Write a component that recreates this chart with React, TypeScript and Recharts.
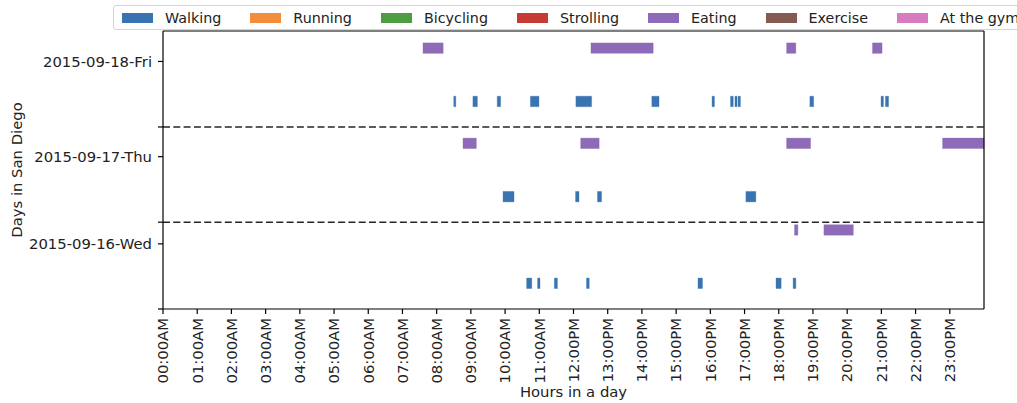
import { ComposedChart, XAxis, YAxis, ReferenceArea, ReferenceLine } from 'recharts';

document.body.style.margin = '0';

const hourLabels = [
  '00:00AM', '01:00AM', '02:00AM', '03:00AM', '04:00AM', '05:00AM',
  '06:00AM', '07:00AM', '08:00AM', '09:00AM', '10:00AM', '11:00AM',
  '12:00PM', '13:00PM', '14:00PM', '15:00PM', '16:00PM', '17:00PM',
  '18:00PM', '19:00PM', '20:00PM', '21:00PM', '22:00PM', '23:00PM'
];

const activities = ['Walking', 'Running', 'Bicycling', 'Strolling', 'Eating', 'Exercise', 'At the gym'];
const activityColors = ['#3a74b0', '#f28e3b', '#4f9d43', '#c63b33', '#8e6bb9', '#845b52', '#d67cbf'];

const days = ['2015-09-16-Wed', '2015-09-17-Thu', '2015-09-18-Fri'];
const dayTickY = [0.684, 1.6, 2.6];
const dayDividerY = [0.912, 1.912];
const walkingRowY = [0.27, 1.18, 2.18];
const eatingRowY = [0.83, 1.74, 2.74];

// [start hour, end hour]
const walkingWed = [
  [10.63, 10.78], [10.95, 11.02], [11.44, 11.53], [12.38, 12.46],
  [15.64, 15.77], [17.92, 18.07], [18.42, 18.5]
];
const eatingWed = [[18.46, 18.56], [19.32, 20.18]];

const walkingThu = [[9.94, 10.26], [12.06, 12.16], [12.7, 12.82], [17.04, 17.33]];
const eatingThu = [[8.77, 9.16], [12.21, 12.75], [18.23, 18.93], [22.79, 24]];

const walkingFri = [
  [8.5, 8.56], [9.06, 9.19], [9.77, 9.87], [10.74, 10.99], [12.07, 12.53],
  [14.29, 14.5], [16.05, 16.12], [16.59, 16.67], [16.72, 16.78], [16.81, 16.88],
  [18.91, 19.02], [20.99, 21.06], [21.12, 21.21]
];
const eatingFri = [[7.6, 8.19], [12.51, 14.33], [18.23, 18.5], [20.74, 21.02]];

const walkingByDay = [walkingWed, walkingThu, walkingFri];
const eatingByDay = [eatingWed, eatingThu, eatingFri];

const BAR_HALF = 0.055;
const FONT = '"DejaVu Sans", sans-serif';
const FS = 14.8;
const TEXT = '#222';

const XTick = ({ x, y, payload }: any) => (
  <text
    x={x}
    y={y}
    transform={`rotate(-90 ${x} ${y})`}
    textAnchor="end"
    dy="0.36em"
    fontSize={FS}
    fontFamily={FONT}
    fill={TEXT}
  >
    {hourLabels[payload.value]}
  </text>
);

const YTick = ({ x, y, payload }: any) => {
  const idx = dayTickY.indexOf(payload.value);
  if (idx < 0) return null;
  return (
    <text x={x} y={y} textAnchor="end" dy="0.36em" fontSize={FS} fontFamily={FONT} fill={TEXT}>
      {days[idx]}
    </text>
  );
};

const segments = (rows: number[][][], rowY: number[], color: string, key: string) =>
  rows.flatMap((row, d) =>
    row.map(([s, e], i) => (
      <ReferenceArea
        key={`${key}-${d}-${i}`}
        x1={s}
        x2={e}
        y1={rowY[d] - BAR_HALF}
        y2={rowY[d] + BAR_HALF}
        fill={color}
        fillOpacity={1}
        stroke={color}
        strokeOpacity={0.35}
        strokeWidth={1}
        ifOverflow="visible"
      />
    ))
  );

export default function App() {
  const hourTicks = hourLabels.map((_, i) => i);
  const yTicks = [0, ...dayTickY, ...dayDividerY].sort((a, b) => a - b);

  return (
    <div style={{ position: 'relative', width: 1017, height: 403, overflow: 'hidden', background: '#fff' }}>
      <ComposedChart width={1017} height={403} margin={{ top: 31, right: 33, bottom: 0, left: 0 }} data={[]}>
        <XAxis
          type="number"
          dataKey="x"
          domain={[0, 24]}
          ticks={hourTicks}
          allowDataOverflow
          height={94}
          tick={<XTick />}
          tickSize={5}
          tickMargin={4}
          interval={0}
          axisLine={{ stroke: '#000', strokeWidth: 1.2 }}
          tickLine={{ stroke: '#000', strokeWidth: 1.2 }}
          label={{ value: 'Hours in a day', position: 'insideBottom', offset: 6, fill: TEXT, fontSize: FS, fontFamily: FONT }}
        />
        <YAxis
          type="number"
          dataKey="y"
          domain={[0, 2.92]}
          ticks={yTicks}
          allowDataOverflow
          width={163}
          tick={<YTick />}
          tickSize={5}
          tickMargin={6}
          interval={0}
          axisLine={{ stroke: '#000', strokeWidth: 1.2 }}
          tickLine={{ stroke: '#000', strokeWidth: 1.2 }}
          label={{
            value: 'Days in San Diego',
            angle: -90,
            position: 'insideLeft',
            offset: 17,
            fill: TEXT,
            fontSize: FS,
            fontFamily: FONT,
            style: { textAnchor: 'middle' }
          }}
        />
        {dayDividerY.map((y) => (
          <ReferenceLine key={`div-${y}`} y={y} stroke="#262626" strokeWidth={1.5} strokeDasharray="7 3.3" />
        ))}
        <ReferenceLine x={24} stroke="#000" strokeWidth={1.2} />
        <ReferenceLine y={2.92} stroke="#000" strokeWidth={1.2} />
        {segments(walkingByDay, walkingRowY, activityColors[0], 'walk')}
        {segments(eatingByDay, eatingRowY, activityColors[4], 'eat')}
      </ComposedChart>
      <div
        style={{
          position: 'absolute',
          left: 113,
          top: 5,
          width: 960,
          height: 25,
          boxSizing: 'border-box',
          border: '1px solid #d4d4d4',
          borderRadius: 3,
          background: 'rgba(255,255,255,0.85)',
          display: 'flex',
          alignItems: 'center',
          paddingLeft: 8,
          fontFamily: FONT,
          fontSize: 14.3,
          color: TEXT,
          whiteSpace: 'nowrap'
        }}
      >
        {activities.map((name, i) => (
          <div key={name} style={{ display: 'flex', alignItems: 'center', marginRight: 29 }}>
            <div
              style={{
                width: 31,
                height: 10,
                background: activityColors[i],
                border: `1px solid ${activityColors[i]}55`,
                boxSizing: 'border-box',
                marginRight: 12
              }}
            />
            <span>{name}</span>
          </div>
        ))}
      </div>
    </div>
  );
}
